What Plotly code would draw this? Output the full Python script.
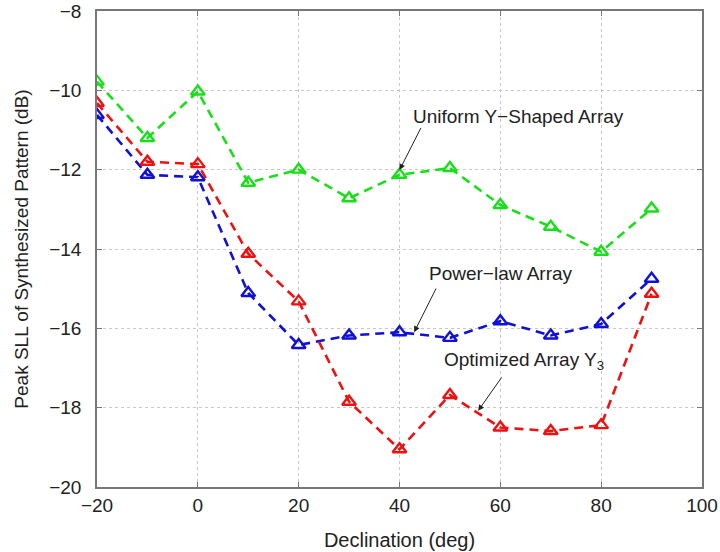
import plotly.graph_objects as go

declination = [-20, -10, 0, 10, 20, 30, 40, 50, 60, 70, 80, 90]
uniform_y = [-9.78, -11.2, -10.03, -12.33, -12.0, -12.72, -12.13, -11.96, -12.89, -13.44, -14.07, -12.98]
power_law = [-10.62, -12.13, -12.19, -15.11, -16.42, -16.18, -16.1, -16.24, -15.82, -16.18, -15.89, -14.75]
optimized = [-10.32, -11.8, -11.86, -14.12, -15.32, -17.85, -19.05, -17.68, -18.5, -18.59, -18.44, -15.13]

x_ticks = [-20, 0, 20, 40, 60, 80, 100]
y_ticks = [-20, -18, -16, -14, -12, -10, -8]

FONT = "Liberation Sans, Arial, sans-serif"
NARROW = "Liberation Sans Narrow, Arial Narrow, Liberation Sans, sans-serif"
TXT = "#222222"

fig = go.Figure()
series = [
    ("Uniform Y-Shaped Array", uniform_y, "#18e018"),
    ("Power-law Array", power_law, "#1010d8"),
    ("Optimized Array Y3", optimized, "#f01010"),
]
for name, vals, col in series:
    fig.add_trace(go.Scatter(
        x=declination, y=vals, mode="lines+markers", name=name,
        line=dict(color=col, width=2.6, dash="9px,6px"),
        marker=dict(symbol="triangle-up-open", size=12, color=col, line=dict(width=2.4, color=col)),
        showlegend=False,
    ))

def arrow(tx, ty, hx, hy):
    fig.add_annotation(x=hx, y=hy, ax=tx, ay=ty, xref="x", yref="y", axref="x", ayref="y",
                       text="", showarrow=True, arrowhead=2, arrowsize=1.2, arrowwidth=1,
                       arrowcolor="#222222", standoff=0, startstandoff=0)

def label(x, y, text):
    fig.add_annotation(x=x, y=y, xref="x", yref="y", text=text, showarrow=False,
                       xanchor="left", yanchor="middle",
                       font=dict(family=FONT, size=19, color=TXT))

label(42.2, -10.67, "Uniform Y\u2212Shaped Array")
arrow(44.4, -10.91, 40.0, -12.01)
label(45.5, -14.62, "Power\u2212law Array")
arrow(47.4, -14.96, 42.9, -16.1)
label(48.4, -16.82, "Optimized Array Y<sub>3</sub>")
arrow(60.46, -17.2, 55.6, -18.08)

axis_common = dict(
    showline=True, linecolor="#777777", linewidth=1.5, mirror="ticks",
    ticks="inside", ticklen=5, tickcolor="#777777", tickwidth=1,
    showgrid=True, gridcolor="#c8c8c8", griddash="dot", gridwidth=1,
    zeroline=False, tickfont=dict(family=FONT, size=19, color=TXT),
    automargin=False,
)
fig.update_xaxes(range=[-20, 100], tickvals=x_ticks, ticklabelstandoff=0,
                 title=dict(text="Declination (deg)",
                            font=dict(family=NARROW, size=20, color=TXT), standoff=18), **axis_common)
fig.update_yaxes(range=[-20, -8], tickvals=y_ticks, ticklabelstandoff=10,
                 title=dict(text="Peak SLL of Synthesized Pattern (dB)",
                            font=dict(family=FONT, size=19, color=TXT), standoff=16), **axis_common)

fig.update_layout(
    width=720, height=552,
    margin=dict(l=97, r=18, t=11, b=65),
    paper_bgcolor="white", plot_bgcolor="white",
    font=dict(family=FONT, color=TXT),
)
fig.write_html("out.html")
